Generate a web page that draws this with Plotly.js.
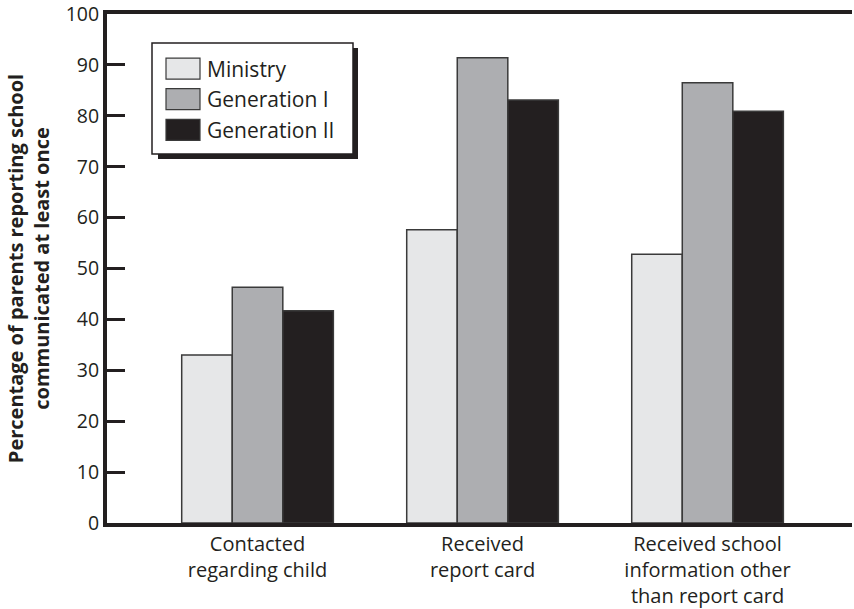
<!DOCTYPE html>
<html>
<head>
<meta charset="utf-8">
<script src="https://cdn.plot.ly/plotly-3.0.1.min.js"></script>
<style>html,body{margin:0;padding:0;background:#fff;}#chart{width:854px;height:609px;}</style>
</head>
<body>
<div id="chart"></div>
<script>
// ---- data ----
const categories = [
  "Contacted<br>regarding child",
  "Received<br>report card",
  "Received school<br>information other<br>than report card"
];
const seriesNames = ["Ministry", "Generation I", "Generation II"];
const ministry = [33.0, 57.6, 52.8];
const generation1 = [46.3, 91.4, 86.5];
const generation2 = [41.7, 83.1, 80.9];
const yTickVals = [0, 10, 20, 30, 40, 50, 60, 70, 80, 90, 100];

// ---- styles ----
const colors = ["#e6e7e8", "#adaeb1", "#231f20"];
const ink = "#231f20";
const FONT = "Open Sans, Noto Sans, sans-serif";

const values = [ministry, generation1, generation2];
const traces = values.map((v, i) => ({
  type: "bar",
  x: categories,
  y: v,
  name: seriesNames[i],
  marker: { color: colors[i], line: { color: "#3a3a3a", width: 1.5 } },
  hoverinfo: "y",
  showlegend: false
}));

// layout geometry (pixels)
const L = 107, R = 2, T = 14, B = 86, W = 854, H = 609;
const pw = W - L - R, ph = H - T - B;
const px = x => (x - L) / pw;
const py = y => (H - B - y) / ph;

const shapes = [];
const annotations = [];
// legend shadow + box
shapes.push({ type: "rect", xref: "paper", yref: "paper", x0: px(158), x1: px(358), y0: py(159), y1: py(48),
  fillcolor: ink, line: { width: 0 }, layer: "above" });
shapes.push({ type: "rect", xref: "paper", yref: "paper", x0: px(152), x1: px(353), y0: py(154), y1: py(43),
  fillcolor: "#ffffff", line: { color: ink, width: 1.5 }, layer: "above" });
const rowCenters = [68.7, 99.2, 129.9];
seriesNames.forEach((n, i) => {
  const c = rowCenters[i];
  shapes.push({ type: "rect", xref: "paper", yref: "paper", x0: px(166), x1: px(200), y0: py(c + 10.5), y1: py(c - 10.5),
    fillcolor: colors[i], line: { color: "#3a3a3a", width: 1.2 }, layer: "above" });
  annotations.push({ xref: "paper", yref: "paper", x: px(205), y: py(c), xanchor: "left", yanchor: "middle",
    text: n, showarrow: false, font: { family: FONT, size: 21, color: ink } });
});

const layout = {
  width: W, height: H,
  margin: { l: L, r: R, t: T, b: B },
  paper_bgcolor: "#ffffff", plot_bgcolor: "#ffffff",
  barmode: "group", bargap: 0.326, bargroupgap: 0,
  font: { family: FONT, size: 20, color: ink },
  xaxis: {
    type: "category",
    range: [-0.669, 2.642],
    showline: true, linecolor: ink, linewidth: 4, mirror: true,
    ticks: "", showgrid: false, zeroline: false,
    ticklabeloverflow: "allow",
    tickfont: { family: FONT, size: 20, color: ink }
  },
  yaxis: {
    range: [0, 100], tickvals: yTickVals,
    ticks: "inside", ticklen: 18, tickwidth: 3, tickcolor: ink,
    showline: true, linecolor: ink, linewidth: 4, mirror: false,
    showgrid: false, zeroline: false,
    ticklabeloverflow: "allow",
    tickfont: { family: FONT, size: 19.5, color: ink },
    title: { text: "<b>Percentage of parents reporting school<br>communicated at least once</b>",
      font: { family: FONT, size: 20, color: ink }, standoff: 12 }
  },
  shapes: shapes,
  annotations: annotations
};

Plotly.newPlot("chart", traces, layout, { displayModeBar: false, staticPlot: true });
</script>
</body>
</html>
